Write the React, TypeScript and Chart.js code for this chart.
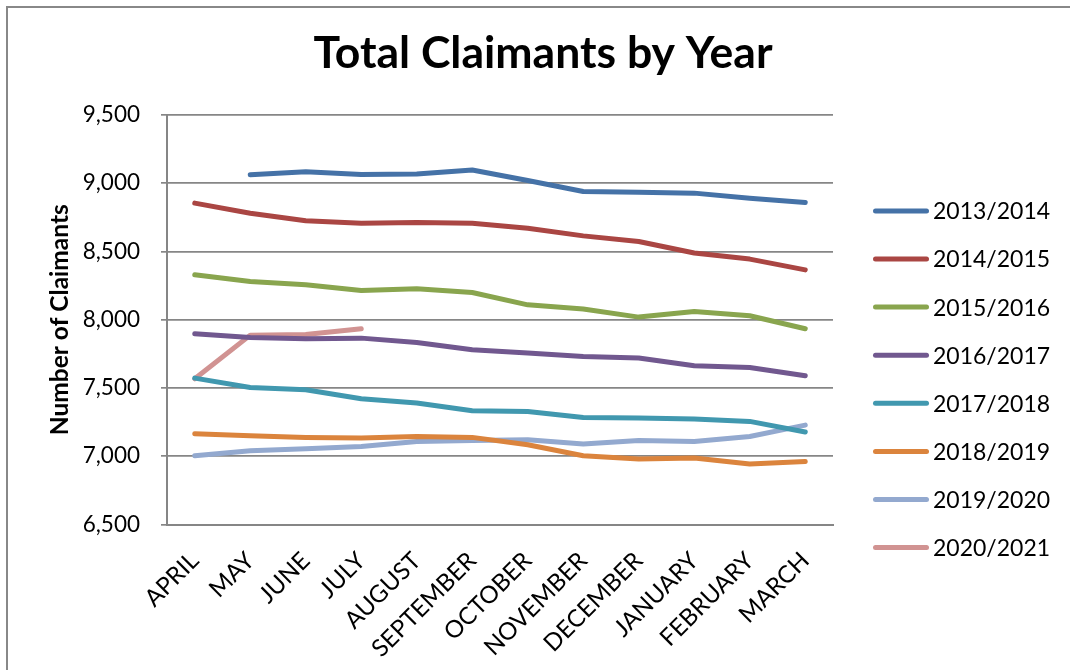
import React, { useEffect, useRef } from 'react';
import { Chart, registerables } from 'chart.js';

Chart.register(...registerables);

const categories = ['APRIL', 'MAY', 'JUNE', 'JULY', 'AUGUST', 'SEPTEMBER', 'OCTOBER', 'NOVEMBER', 'DECEMBER', 'JANUARY', 'FEBRUARY', 'MARCH'];

const seriesLabels = ['2013/2014', '2014/2015', '2015/2016', '2016/2017', '2017/2018', '2018/2019', '2019/2020', '2020/2021'];
const seriesColors = ['#4572A7', '#AA4643', '#89A54E', '#71588F', '#4198AF', '#DB843D', '#93A9CF', '#D19392'];

const y2013 = [null, 9061, 9083, 9063, 9068, 9097, 9019, 8939, 8934, 8927, 8890, 8858];
const y2014 = [8854, 8780, 8724, 8707, 8712, 8707, 8670, 8614, 8573, 8488, 8444, 8365];
const y2015 = [8329, 8280, 8256, 8214, 8226, 8199, 8109, 8078, 8019, 8060, 8029, 7934];
const y2016 = [7897, 7870, 7860, 7865, 7833, 7780, 7756, 7731, 7719, 7663, 7650, 7589];
const y2017 = [7572, 7504, 7487, 7421, 7390, 7333, 7328, 7284, 7280, 7272, 7255, 7177];
const y2018 = [7165, 7150, 7138, 7133, 7145, 7138, 7084, 7004, 6980, 6987, 6943, 6962];
const y2019 = [7004, 7040, 7055, 7072, 7108, 7116, 7121, 7089, 7116, 7108, 7145, 7228];
const y2020 = [7567, 7887, 7892, 7933];

const seriesValues = [y2013, y2014, y2015, y2016, y2017, y2018, y2019, y2020];

const yMin = 6500;
const yMax = 9500;
const yStep = 500;

const chartTitle = 'Total Claimants by Year';
const yAxisTitle = 'Number of Claimants';

const FONT = 'Lato, "Open Sans", sans-serif';

export default function App() {
  const canvasRef = useRef<HTMLCanvasElement | null>(null);

  useEffect(() => {
    if (!canvasRef.current) return;
    document.documentElement.style.overflow = 'hidden';
    document.body.style.overflow = 'hidden';

    const sideLegend = {
      id: 'sideLegend',
      afterDraw(chart: any) {
        const { ctx, chartArea } = chart;
        const x0 = chartArea.right + 40;
        const y0 = chartArea.top + 96;
        const step = 48.1;
        ctx.save();
        chart.data.datasets.forEach((ds: any, i: number) => {
          const y = y0 + i * step;
          ctx.strokeStyle = ds.borderColor;
          ctx.lineWidth = 5;
          ctx.lineCap = 'round';
          ctx.beginPath();
          ctx.moveTo(x0 + 2.5, y);
          ctx.lineTo(x0 + 53.5, y);
          ctx.stroke();
          ctx.fillStyle = '#000';
          ctx.font = `23px ${FONT}`;
          ctx.textAlign = 'left';
          ctx.textBaseline = 'middle';
          ctx.fillText(ds.label, x0 + 60, y + 1);
        });
        ctx.restore();
      },
    };

    const chart = new Chart(canvasRef.current, {
      type: 'line',
      data: {
        labels: categories,
        datasets: seriesLabels.map((label, i) => ({
          label,
          data: seriesValues[i],
          borderColor: seriesColors[i],
          backgroundColor: seriesColors[i],
          borderWidth: 5,
          borderCapStyle: 'round' as const,
          borderJoinStyle: 'round' as const,
          pointRadius: 0,
          pointHoverRadius: 0,
          tension: 0,
          fill: false,
          yAxisID: 'y',
        })),
      },
      options: {
        animation: false,
        responsive: true,
        maintainAspectRatio: false,
        layout: { padding: { left: 16, top: 0, right: 0, bottom: 0 } },
        plugins: {
          legend: { display: false },
          tooltip: { enabled: false },
          title: {
            display: true,
            text: chartTitle,
            color: '#000',
            font: { family: FONT, size: 44.5, weight: 'bold' },
            padding: { top: 27, bottom: 34.5 },
          },
        },
        scales: {
          x: {
            offset: true,
            grid: { display: false, drawTicks: false },
            border: { display: true, color: '#868686', width: 2 },
            ticks: {
              color: '#000',
              font: { family: FONT, size: 24 },
              autoSkip: false,
              maxRotation: 45,
              minRotation: 45,
              padding: 22,
            },
            afterFit(scale: any) {
              scale.height = 145.5;
            },
          },
          y: {
            position: 'left',
            min: yMin,
            max: yMax,
            ticks: {
              stepSize: yStep,
              color: '#000',
              font: { family: FONT, size: 22.5 },
              padding: 21,
              callback: (v: any) => Number(v).toLocaleString('en-US'),
            },
            grid: { color: '#868686', lineWidth: 1.7, tickLength: 6, drawTicks: true },
            border: { display: true, color: '#868686', width: 2 },
            title: {
              display: true,
              text: yAxisTitle,
              color: '#000',
              font: { family: FONT, size: 24.5, weight: 'bold' },
              padding: { top: 29.5, bottom: 0 },
            },
            afterFit(scale: any) {
              scale.width = 151;
            },
          },
          legendSpace: {
            type: 'linear',
            position: 'right',
            display: true,
            grid: { display: false, drawTicks: false },
            border: { display: false },
            ticks: { display: false },
            afterFit(scale: any) {
              scale.width = 237;
            },
          },
        },
      },
      plugins: [sideLegend],
    });

    return () => chart.destroy();
  }, []);

  return (
    <div style={{ position: 'absolute', left: 0, top: 0, width: 1070, height: 670, overflow: 'hidden', background: '#fff' }}>
      <canvas ref={canvasRef} />
      <div style={{ position: 'absolute', left: 6, top: 6, width: 2, height: 664, background: '#888', pointerEvents: 'none' }} />
      <div style={{ position: 'absolute', left: 6, top: 6, width: 1064, height: 2, background: '#888', pointerEvents: 'none' }} />
      <div style={{ position: 'absolute', left: 1058, top: 9, width: 12, height: 661, background: '#fff', pointerEvents: 'none', zIndex: 5 }} />
    </div>
  );
}
